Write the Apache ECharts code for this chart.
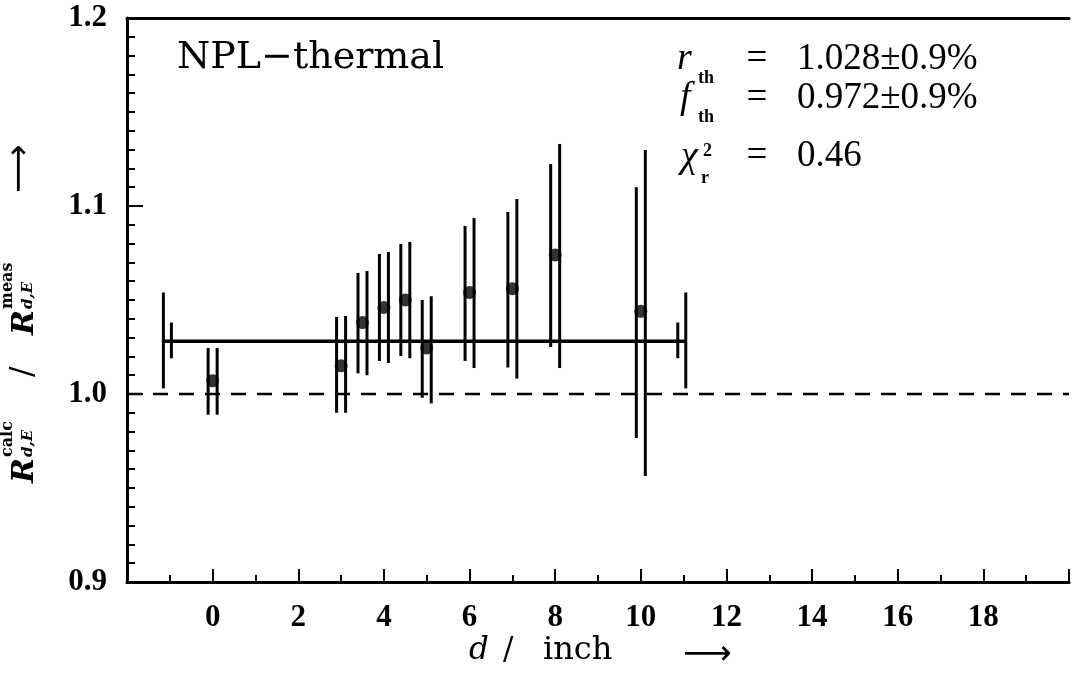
<!DOCTYPE html>
<html><head><meta charset="utf-8">
<script src="https://cdn.jsdelivr.net/npm/echarts@6/dist/echarts.min.js"></script>
<style>html,body{margin:0;padding:0;background:#fff}#c{width:1072px;height:677px}</style>
</head><body><div id="c"></div>
<script>
// ---- data ----
const xRange = [-2, 20];
const yRange = [0.9, 1.2];
const distances = [0, 3, 3.5, 4, 4.5, 5, 6, 7, 8, 10];            // d / inch
const ratios    = [1.007, 1.015, 1.038, 1.046, 1.050, 1.0245, 1.054, 1.056, 1.074, 1.044];
const errALow   = [0.989, 0.990, 1.011, 1.0176, 1.0202, 0.998, 1.0176, 1.0141, 1.025, 0.9766];
const errAHigh  = [1.0245, 1.041, 1.0644, 1.0745, 1.0798, 1.050, 1.0894, 1.0968, 1.1223, 1.110];
const errBLow   = [0.989, 0.990, 1.010, 1.0165, 1.019, 0.995, 1.0138, 1.0082, 1.0138, 0.9564];
const errBHigh  = [1.0245, 1.0415, 1.0654, 1.0755, 1.0809, 1.052, 1.0936, 1.1037, 1.133, 1.1298];
const fitValue  = 1.028;
const fitRange  = [-1.15, 11.05];
const fitOuterBand = [1.003, 1.054];
const fitInnerBand = [1.019, 1.038];
const referenceLevel = 1.0;
const xTickLabels = ['0','2','4','6','8','10','12','14','16','18'];

const points = distances.map((d, i) => [d, ratios[i]]);
const bars = distances.map((d, i) => [d, errALow[i], errAHigh[i], errBLow[i], errBHigh[i]]);
const fitEnds = fitRange.map(d => [d, fitOuterBand[0], fitOuterBand[1], fitInnerBand[0], fitInnerBand[1]]);

const chart = echarts.init(document.getElementById('c'));
const BLACK = '#000';
const serif = 'DejaVu Serif';
const lserif = 'Liberation Serif';

function lineEl(p0, p1, w) {
  return {type: 'line', shape: {x1: p0[0], y1: p0[1], x2: p1[0], y2: p1[1]},
          style: {stroke: BLACK, lineWidth: w}};
}
function txt(text, x, y, font, align) {
  return {type: 'text', x: x, y: y,
    style: {text: text, font: font, fill: BLACK, textAlign: align || 'left', textVerticalAlign: 'middle',
            align: align || 'left', verticalAlign: 'middle'}};
}

const option = {
  animation: false,
  backgroundColor: '#fff',
  grid: {left: 127, top: 18, width: 948, height: 564, containLabel: false},
  xAxis: [{
    type: 'value', min: xRange[0], max: xRange[1], interval: 2,
    axisLine: {show: true, onZero: false, lineStyle: {color: BLACK, width: 3}},
    axisTick: {show: true, inside: true, length: 13, lineStyle: {color: BLACK, width: 2}},
    minorTick: {show: true, splitNumber: 2, length: 7, lineStyle: {color: BLACK, width: 2}},
    splitLine: {show: false},
    axisLabel: {margin: 20, color: BLACK, fontSize: 31, fontFamily: lserif, fontWeight: 'bold',
      formatter: v => { const s = String(v); return xTickLabels.indexOf(s) >= 0 ? s : ''; }}
  }, {
    type: 'value', position: 'top', min: xRange[0], max: xRange[1],
    axisLine: {show: true, onZero: false, lineStyle: {color: BLACK, width: 3}},
    axisTick: {show: false}, axisLabel: {show: false}, splitLine: {show: false}
  }],
  yAxis: {
    type: 'value', min: yRange[0], max: yRange[1], interval: 0.1,
    axisLine: {show: true, onZero: false, lineStyle: {color: BLACK, width: 3}},
    axisTick: {show: true, inside: true, length: 16, lineStyle: {color: BLACK, width: 2}},
    minorTick: {show: true, splitNumber: 10, length: 8, lineStyle: {color: BLACK, width: 2}},
    splitLine: {show: false},
    axisLabel: {margin: 20, color: BLACK, fontSize: 31, fontFamily: lserif, fontWeight: 'bold',
      formatter: v => v.toFixed(1)}
  },
  series: [
    {
      type: 'line', data: [[xRange[0], referenceLevel], [xRange[1], referenceLevel]],
      symbol: 'none', lineStyle: {color: BLACK, width: 2.5, type: [15, 11]}, silent: true, z: 2
    },
    {
      type: 'line', data: [[fitRange[0], fitValue], [fitRange[1], fitValue]],
      symbol: 'none', lineStyle: {color: BLACK, width: 3.5}, silent: true, z: 3
    },
    {
      type: 'custom', data: fitEnds, encode: {x: 0, y: [1, 2, 3, 4]}, z: 3,
      renderItem: (params, api) => {
        const x = api.value(0);
        const dir = params.dataIndex === 0 ? 1 : -1;
        const o0 = api.coord([x, api.value(1)]), o1 = api.coord([x, api.value(2)]);
        const i0 = api.coord([x, api.value(3)]), i1 = api.coord([x, api.value(4)]);
        return {type: 'group', children: [
          lineEl(o0, o1, 3),
          lineEl([i0[0] + dir * 8, i0[1]], [i1[0] + dir * 8, i1[1]], 3)
        ]};
      }
    },
    {
      type: 'custom', data: bars, encode: {x: 0, y: [1, 2, 3, 4]}, z: 4,
      renderItem: (params, api) => {
        const x = api.value(0);
        const a0 = api.coord([x, api.value(1)]), a1 = api.coord([x, api.value(2)]);
        const b0 = api.coord([x, api.value(3)]), b1 = api.coord([x, api.value(4)]);
        const off = 4.5;
        return {type: 'group', children: [
          lineEl([a0[0] - off, a0[1]], [a1[0] - off, a1[1]], 3),
          lineEl([b0[0] + off, b0[1]], [b1[0] + off, b1[1]], 3)
        ]};
      }
    },
    {
      type: 'scatter', data: points, symbol: 'circle', symbolSize: 13,
      itemStyle: {color: BLACK}, z: 5
    }
  ],
  graphic: [
    txt('NPL\u2212thermal', 177, 58, '38px "' + serif + '"'),
    // annotation block
    txt('r', 677, 59, 'italic 38px "' + lserif + '"'),
    txt('th', 698, 78, 'bold 18px "' + lserif + '"'),
    txt('=', 757, 59, '37px "' + lserif + '"', 'center'),
    txt('1.028\u00b10.9%', 797, 59, '37px "' + lserif + '"'),
    txt('f', 680, 98, 'italic 38px "' + lserif + '"'),
    txt('th', 698, 117, 'bold 18px "' + lserif + '"'),
    txt('=', 757, 98, '37px "' + lserif + '"', 'center'),
    txt('0.972\u00b10.9%', 797, 98, '37px "' + lserif + '"'),
    txt('\u03c7', 681, 157, 'italic 38px "' + lserif + '"'),
    txt('2', 703, 151, 'bold 18px "' + lserif + '"'),
    txt('r', 701, 178, 'bold 18px "' + lserif + '"'),
    txt('=', 757, 156, '37px "' + lserif + '"', 'center'),
    txt('0.46', 797, 156, '37px "' + lserif + '"'),
    // x-axis title
    txt('d', 469, 651, 'italic 31px "' + serif + '"'),
    txt('/', 503, 651, '31px "' + serif + '"'),
    txt('inch', 543, 651, '32px "' + serif + '"'),
    txt('\u27f6', 683, 655, '34px "DejaVu Sans"'),
    // y-axis title (rotated)
    {
      type: 'group', x: 35, y: 485, rotation: Math.PI / 2,
      children: [
        txt('R', 2, -10, 'italic bold 30px "' + serif + '"'),
        txt('calc', 28, -27, 'bold 16px "' + serif + '"'),
        txt('d,E', 28, -7, 'italic bold 15px "' + serif + '"'),
        txt('/', 108, -11, '31px "' + serif + '"'),
        txt('R', 150, -10, 'italic bold 30px "' + serif + '"'),
        txt('meas', 176, -27, 'bold 16px "' + serif + '"'),
        txt('d,E', 176, -7, 'italic bold 15px "' + serif + '"'),
        txt('\u27f6', 292, -15, '34px "DejaVu Sans"')
      ]
    }
  ]
};
chart.setOption(option);
</script>
</body></html>
